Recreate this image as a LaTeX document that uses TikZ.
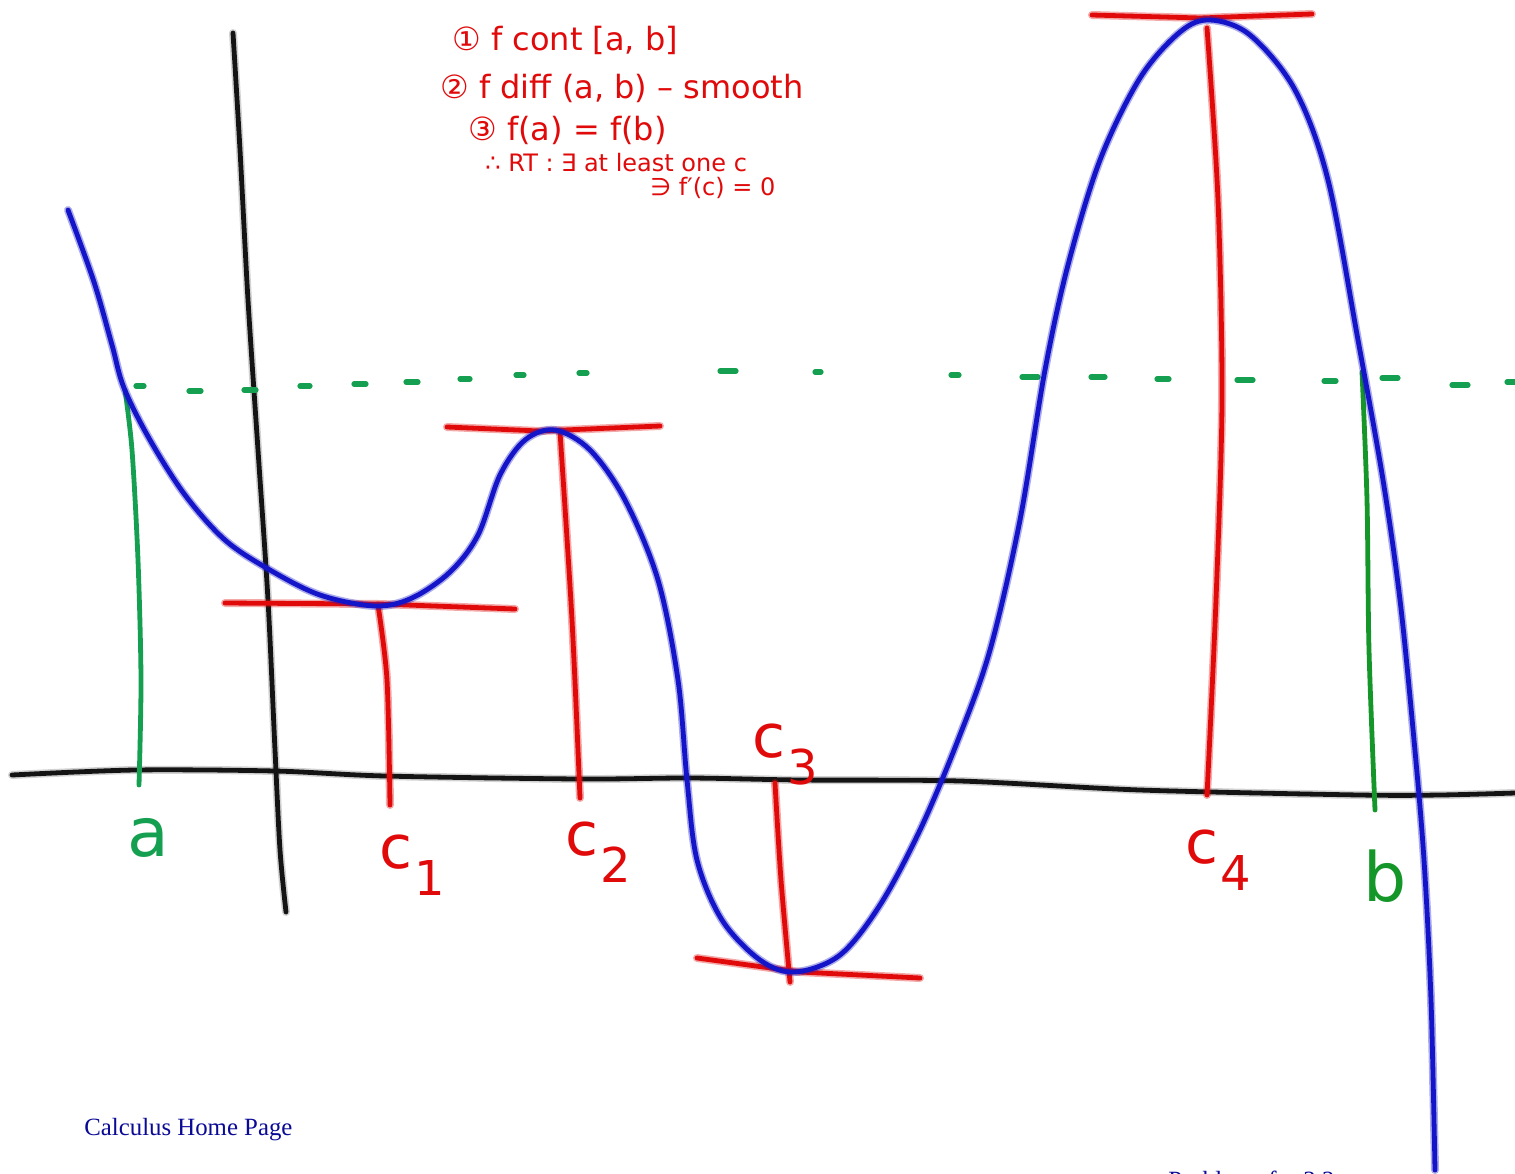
\documentclass[tikz,border=0pt]{standalone}
\usepackage{fontspec}
\setmainfont{Liberation Serif}
\newfontfamily\hand{DejaVu Sans}
\definecolor{penblue}{RGB}{20,20,200}
\definecolor{penred}{RGB}{225,10,10}
\definecolor{pengreen}{RGB}{20,160,80}
\definecolor{pengreenB}{RGB}{20,150,40}
\definecolor{linkblue}{RGB}{10,10,150}
\definecolor{penink}{RGB}{20,20,20}
\tikzset{
  pen/.style={line width=2.4pt, line cap=round, line join=round},
  halo/.style={line width=4pt, line cap=round, line join=round, opacity=0.35},
  handtext/.style={text=penred, font=\hand\itshape, anchor=west, inner sep=0pt},
  lbl/.style={font=\hand\itshape, inner sep=0pt},
}
\newcommand{\csub}[1]{c\kern1pt\raisebox{-0.45em}{\fontsize{24}{24}\selectfont #1}}
\begin{document}
\begin{tikzpicture}[x=0.5pt,y=-0.5pt]
\useasboundingbox (0,0) rectangle (1515,1173);
\fill[white] (0,0) rectangle (1515,1173);
\begin{scope}
\clip (0,0) rectangle (1515,1173);
% axes
\foreach \st/\col in {halo/gray, pen/penink}{
\draw[\st,\col] plot[smooth,tension=0.5] coordinates {(12,775) (135,770) (275,771) (385,776) (580,779) (690,778) (800,780) (960,781) (1140,790) (1360,795) (1440,795) (1515,793)};
\draw[\st,\col] plot[smooth,tension=0.5] coordinates {(233,33) (240,150) (248,300) (258,450) (268,600) (275,750) (280,850) (286,912)};
}
% green dotted level
\foreach \x/\y/\w in {140/386/4, 195/391/6, 250/390/6, 305/386/5, 360/384/6, 412/382/6, 465/379/5, 520/375/4, 583/373/4, 728/371/8, 818/372/3, 955/375/4, 1030/377/8, 1098/377/7, 1163/379/6, 1245/380/8, 1330/381/6, 1390/378/8, 1460/385/8, 1512/382/5}{
  \draw[pengreen, line width=2.6pt, line cap=round] (\x-\w,\y) -- (\x+\w,\y);
}
% green verticals
\draw[pen,pengreen] plot[smooth,tension=0.5] coordinates {(125,390) (132,450) (138,560) (141,680) (139,785)};
\draw[pen,pengreenB] plot[smooth,tension=0.5] coordinates {(1362,372) (1367,500) (1369,650) (1375,810)};
% red tangents and verticals
\foreach \st/\col in {halo/penred, pen/penred}{
\draw[\st,\col] (225,603) -- (380,604) -- (515,609);
\draw[\st,\col] plot[smooth,tension=0.5] coordinates {(378,605) (387,680) (390,805)};
\draw[\st,\col] (447,427) -- (540,431) -- (660,426);
\draw[\st,\col] plot[smooth,tension=0.5] coordinates {(560,432) (572,620) (580,798)};
\draw[\st,\col] (697,958) -- (800,972) -- (920,978);
\draw[\st,\col] plot[smooth,tension=0.5] coordinates {(775,783) (781,880) (790,982)};
\draw[\st,\col] (1092,15) -- (1200,18) -- (1312,14);
\draw[\st,\col] plot[smooth,tension=0.5] coordinates {(1207,28) (1218,200) (1222,400) (1216,600) (1207,795)};
}
% blue curve
\foreach \st in {halo, pen}{
\draw[\st,penblue] plot[smooth,tension=0.55] coordinates {(68,210) (94,282) (112,345) (124,388) (150,440) (185,495) (225,540) (270,570) (320,595) (375,606) (412,598) (450,572) (478,535) (500,475) (525,440) (555,430) (590,450) (625,500) (658,580) (678,680) (687,780) (697,860) (722,920) (760,960) (795,972) (840,955) (880,905) (920,830) (958,740) (990,650) (1020,520) (1045,370) (1068,265) (1100,160) (1140,78) (1180,32) (1210,20) (1250,35) (1295,90) (1328,180) (1358,340) (1383,480) (1400,600) (1414,740) (1424,860) (1431,1000) (1435,1170)};
}
% labels
\node[lbl,text=pengreen,font=\hand\fontsize{34}{34}\selectfont] (la) at (148,838) {a};
\node[lbl,text=pengreenB,font=\hand\fontsize{34}{34}\selectfont] (lb) at (1385,876) {b};
\node[lbl,text=penred,font=\hand\fontsize{30}{30}\selectfont] (lc1) at (412,865) {\csub{1}};
\node[lbl,text=penred,font=\hand\fontsize{30}{30}\selectfont] (lc2) at (598,852) {\csub{2}};
\node[lbl,text=penred,font=\hand\fontsize{30}{30}\selectfont] (lc3) at (785,755) {\csub{3}};
\node[lbl,text=penred,font=\hand\fontsize{30}{30}\selectfont] (lc4) at (1218,860) {\csub{4}};
% handwritten notes
\node[handtext,font=\hand\fontsize{16}{16}\selectfont] (n1) at (452,40) {① f cont [a, b]};
\node[handtext,font=\hand\fontsize{16}{16}\selectfont] (n2) at (440,88) {② f diff (a, b) – smooth};
\node[handtext,font=\hand\fontsize{16}{16}\selectfont] (n3) at (468,130) {③ f(a) = f(b)};
\node[handtext,font=\hand\fontsize{12}{12}\selectfont] (n4) at (485,163) {∴ RT : ∃ at least one c};
\node[handtext,font=\hand\fontsize{12}{12}\selectfont] (n5) at (650,188) {∋ f′(c) = 0};
% footer
\node[text=linkblue, font=\fontsize{12.4}{13}\selectfont, anchor=base west, inner sep=0pt] (home) at (84,1135) {Calculus Home Page};
\node[text=linkblue, font=\fontsize{12.4}{13}\selectfont, anchor=base west, inner sep=0pt] (probs) at (1168,1188) {Problems for 3.2};
\end{scope}
\end{tikzpicture}
\end{document}
